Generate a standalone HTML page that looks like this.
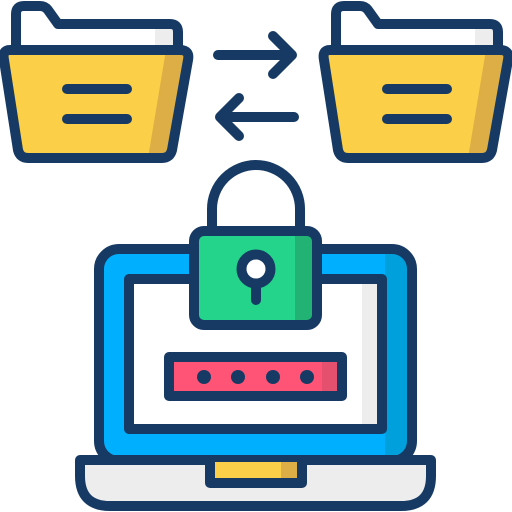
<!DOCTYPE html>
<html><head><style>html,body{margin:0;padding:0;background:#fff}svg{display:block}</style></head>
<body>
<svg width="512" height="512" viewBox="0 0 512 512" xmlns="http://www.w3.org/2000/svg">
<defs>
<g id="folder">
  <path d="M16 50 V14 Q16 6 24 6 H40 Q45 6 48 10 L58 24 H170 Q178 24 178 32 V55 Z" fill="#fff"/>
  <rect x="155" y="28" width="18" height="25" fill="#ededed"/>
  <path d="M16 52 V14 Q16 6 24 6 H40 Q45 6 48 10 L58 24 H170 Q178 24 178 32 V52" fill="none" stroke="#173a64" stroke-width="10" stroke-linejoin="round"/>
  <path d="M10 50 H180 Q190 50 188 60 L172 150 Q170 158 162 158 H28 Q20 158 18 150 L4 60 Q2 50 10 50 Z" fill="#fbcf47"/>
  <path d="M166 50 H180 Q190 50 188 60 L172 150 Q170 158 162 158 H148 Z" fill="#dcae45"/>
  <path d="M10 50 H180 Q190 50 188 60 L172 150 Q170 158 162 158 H28 Q20 158 18 150 L4 60 Q2 50 10 50 Z" fill="none" stroke="#173a64" stroke-width="10" stroke-linejoin="round"/>
  <path d="M67 89 H127 M67 119 H127" stroke="#173a64" stroke-width="10" stroke-linecap="round"/>
</g>
</defs>
<use href="#folder"/>
<use href="#folder" x="320"/>
<g fill="none" stroke="#173a64" stroke-width="10" stroke-linecap="round" stroke-linejoin="round">
  <path d="M218 55 H292 M273 36 L292 55 L273 74"/>
  <path d="M294 117 H220 M239 98 L220 117 L239 136"/>
</g>
<!-- laptop -->
<rect x="99" y="249" width="313" height="212" rx="20" fill="#00b0ff"/>
<rect x="385" y="254" width="22" height="205" fill="#00a0dc"/>
<rect x="99" y="249" width="313" height="212" rx="20" fill="none" stroke="#173a64" stroke-width="10"/>
<rect x="129" y="279" width="253" height="150" fill="#fff"/>
<rect x="362" y="279" width="20" height="150" fill="#ededed"/>
<rect x="129" y="279" width="253" height="150" fill="none" stroke="#173a64" stroke-width="10" stroke-linejoin="round"/>
<path d="M80 460 H431 V476 Q431 506 401 506 H110 Q80 506 80 476 Z" fill="#ededed" stroke="#173a64" stroke-width="10" stroke-linejoin="round"/>
<rect x="210" y="462" width="92" height="21" fill="#fbcf47"/>
<rect x="281" y="462" width="21" height="21" fill="#dcae45"/>
<path d="M210 462 V483 H302 V462" fill="none" stroke="#173a64" stroke-width="10" stroke-linejoin="round"/>
<!-- password -->
<rect x="169" y="357" width="173" height="39" fill="#ff5476"/>
<rect x="322" y="357" width="20" height="39" fill="#e5506e"/>
<rect x="169" y="357" width="173" height="39" fill="none" stroke="#173a64" stroke-width="10" stroke-linejoin="round"/>
<g fill="#173a64"><circle cx="204" cy="377" r="7"/><circle cx="238" cy="377" r="7"/><circle cx="273" cy="377" r="7"/><circle cx="307" cy="377" r="7"/></g>
<!-- lock -->
<path d="M212 231 V209 A44 44 0 0 1 300 209 V231" fill="none" stroke="#173a64" stroke-width="10"/>
<rect x="194" y="231" width="123" height="94" rx="10" fill="#25d48b"/>
<path d="M295 231 H307 Q317 231 317 241 V315 Q317 325 307 325 H295 Z" fill="#22b274"/>
<rect x="194" y="231" width="123" height="94" rx="10" fill="none" stroke="#173a64" stroke-width="10"/>
<circle cx="256" cy="269" r="14.5" fill="#fff" stroke="#173a64" stroke-width="10"/>
<path d="M256 285 V300" stroke="#173a64" stroke-width="10" stroke-linecap="round"/>
</svg>
</body></html>
